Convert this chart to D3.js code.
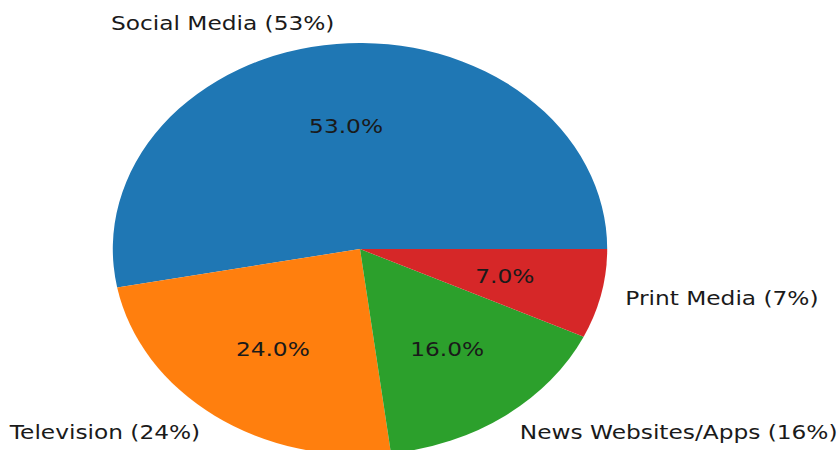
<!DOCTYPE html>
<html lang="en">
<head>
	<meta charset="UTF-8">
	<script src="https://cdnjs.cloudflare.com/ajax/libs/d3/7.8.5/d3.min.js"></script>
	<title>News sources</title>
	<style>
		body { margin: 0; background: #fff; }
		text { font-family: "DejaVu Sans", sans-serif; fill: #1a1a1a; }
	</style>
</head>
<body>
	<div id="draw-here"></div>
	<script>
		/*chart data*/
		var categories = ["Social Media", "Television", "News Websites/Apps", "Print Media"];
		var shares = [53, 24, 16, 7];
		var colors = ["#1f77b4", "#ff7f0e", "#2ca02c", "#d62728"];

		/*size of chart*/
		var w = 839, h = 450;
		var cx = 360, cy = 249;
		var r = 206;
		var stretch = 1.2; /*the picture is a bit wider than tall*/
		var fontSize = "19.4px";

		var svg = d3.select("#draw-here")
			.append("svg")
			.attr("width", w)
			.attr("height", h);

		var g = svg.append("g")
			.attr("transform", "translate(" + cx + "," + cy + ") scale(" + stretch + ",1)");

		/*start at 3 o'clock and go counter clockwise, like matplotlib*/
		var pie = d3.pie()
			.sort(null)
			.startAngle(Math.PI / 2)
			.endAngle(Math.PI / 2 - 2 * Math.PI);

		var arc = d3.arc().innerRadius(0).outerRadius(r);
		var arcs = pie(shares);

		g.selectAll("path")
			.data(arcs)
			.enter()
			.append("path")
			.attr("d", arc)
			.attr("fill", function(d, i) { return colors[i]; });

		function mid(d) { return (d.startAngle + d.endAngle) / 2; }

		/*outer labels at 1.1 r*/
		g.selectAll("text.label")
			.data(arcs)
			.enter()
			.append("text")
			.attr("class", "label")
			.attr("x", function(d) { return 1.1 * r * Math.sin(mid(d)); })
			.attr("y", function(d) { return -1.1 * r * Math.cos(mid(d)); })
			.attr("text-anchor", function(d) { return Math.sin(mid(d)) < 0 ? "end" : "start"; })
			.attr("dominant-baseline", "central")
			.attr("font-size", fontSize)
			.text(function(d, i) { return categories[i] + " (" + shares[i] + "%)"; });

		/*percent labels at 0.6 r*/
		g.selectAll("text.pct")
			.data(arcs)
			.enter()
			.append("text")
			.attr("class", "pct")
			.attr("x", function(d) { return 0.6 * r * Math.sin(mid(d)); })
			.attr("y", function(d) { return -0.6 * r * Math.cos(mid(d)); })
			.attr("text-anchor", "middle")
			.attr("dominant-baseline", "central")
			.attr("font-size", fontSize)
			.text(function(d, i) { return shares[i].toFixed(1) + "%"; });
	</script>
</body>
</html>
